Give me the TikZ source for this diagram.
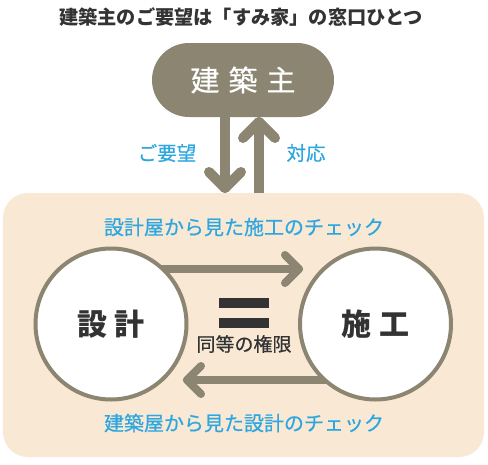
\documentclass[tikz,border=0pt]{standalone}
\usepackage{fontspec}
\usetikzlibrary{calc}
\newfontfamily\jp{Noto Sans CJK JP}
\newfontfamily\jpm[FakeBold=0.6]{Noto Sans CJK JP}
\definecolor{taupe}{HTML}{8B8571}
\definecolor{skyb}{HTML}{2EA7E0}
\definecolor{peach}{HTML}{F8E8D4}
\definecolor{ink}{HTML}{333333}
\begin{document}
\begin{tikzpicture}[x=1pt,y=-1pt,
  bluelabel/.style={text=skyb,font=\jpm\fontsize{19.5}{19.5}\selectfont,inner sep=0pt},
  arr/.style={draw=taupe,line cap=round,line join=round},
  bigcirc/.style={circle,draw=taupe,line width=4pt,fill=white,minimum size=151pt,inner sep=0pt,font=\jp\bfseries\fontsize{30}{30}\selectfont,text=ink}]
\useasboundingbox (0,0) rectangle (488,464);
% title
\node[text=ink,font=\jp\bfseries\fontsize{19.2}{19.2}\selectfont,inner sep=0pt] (title) at (241,17) {建築主のご要望は「すみ家」の窓口ひとつ};
% owner pill
\node[fill=taupe,rounded corners=37pt,minimum width=182pt,minimum height=74pt,inner sep=0pt,text=white,font=\jpm\fontsize{29}{29}\selectfont] (owner) at (243,80) {建\hspace{9pt}築\hspace{9pt}主};
% named ends of the vertical arrows
\coordinate (dtop) at (225,117);
\coordinate (dtip) at (225,188);
\coordinate (utip) at (259,122);
\coordinate (ubot) at (259,215);
% up arrow (under the panel)
\draw[arr,line width=10pt] (ubot) -- (utip);
\draw[arr,line width=10pt] ($(utip)+(-16,16)$) -- (utip) -- ($(utip)+(16,16)$);
% panel
\node[fill=peach,rounded corners=25pt,minimum width=481pt,minimum height=264pt,inner sep=0pt] (panel) at (243.5,325) {};
% down arrow
\draw[arr,line width=10pt] (dtop) -- (dtip);
\draw[arr,line width=10pt] ($(dtip)+(-16,-16)$) -- (dtip) -- ($(dtip)+(16,-16)$);
\node[bluelabel] (req) at (167,153) {ご要望};
\node[bluelabel] (resp) at (306,153) {対応};
% panel labels
\node[bluelabel,font=\jpm\fontsize{20}{20}\selectfont] (chk1) at (244,227) {設計屋から見た施工のチェック};
\node[bluelabel,font=\jpm\fontsize{20}{20}\selectfont] (chk2) at (244,423) {建築屋から見た設計のチェック};
% horizontal arrows
\coordinate (rtail) at (140,269);
\coordinate (rtip) at (299,269);
\coordinate (ltail) at (350,380);
\coordinate (ltip) at (187,380);
\draw[arr,line width=8pt] (rtail) -- (rtip);
\draw[arr,line width=8pt] ($(rtip)+(-14,-14)$) -- (rtip) -- ($(rtip)+(-14,14)$);
\draw[arr,line width=8pt] (ltail) -- (ltip);
\draw[arr,line width=8pt] ($(ltip)+(14,-14)$) -- (ltip) -- ($(ltip)+(14,14)$);
% circles
\node[bigcirc] (design) at (111,324) {設\hspace{8pt}計};
\node[bigcirc] (build) at (375.5,324) {施\hspace{8pt}工};
% equals
\fill[ink] (219,298) rectangle (269,308);
\fill[ink] (219,318) rectangle (269,328);
\node[text=ink,font=\jpm\fontsize{19}{19}\selectfont,inner sep=0pt] (equal) at (244,344) {同等の権限};
\end{tikzpicture}
\end{document}
